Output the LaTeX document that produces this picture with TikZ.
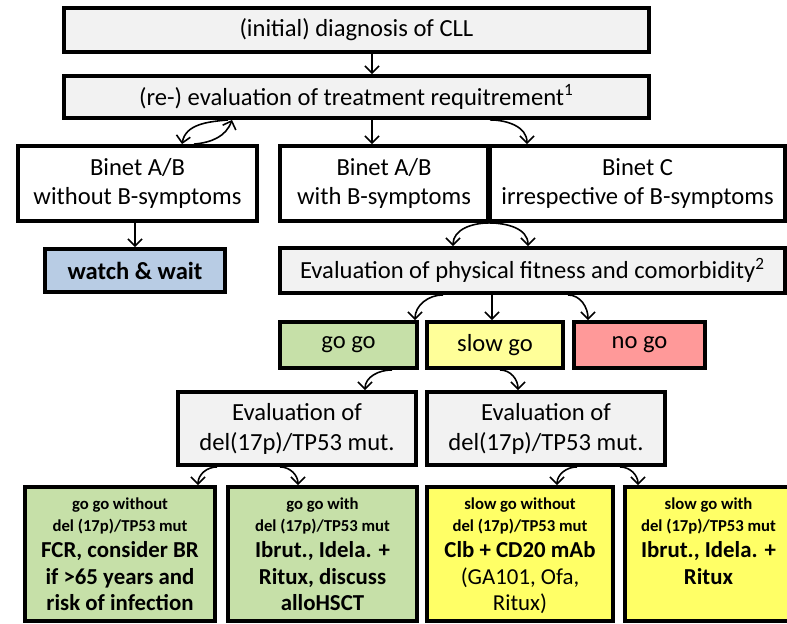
\documentclass[tikz,border=0pt]{standalone}
\usepackage{fontspec}
\setmainfont{Carlito}
\usetikzlibrary{arrows.meta}

\definecolor{boxgrey}{RGB}{242,242,242}
\definecolor{waitblue}{RGB}{184,204,228}
\definecolor{gogreen}{RGB}{198,224,168}
\definecolor{slowyellow}{RGB}{255,255,153}
\definecolor{deepyellow}{RGB}{255,255,102}
\definecolor{nogored}{RGB}{255,153,153}

\newcommand{\headsmall}{\fontsize{9.5}{12.5}\selectfont\bfseries}
\newcommand{\drugbig}{\fontsize{13}{15}\selectfont\bfseries}
\newcommand{\drugplain}{\fontsize{13}{15}\selectfont\mdseries}

\begin{document}
\begin{tikzpicture}[x=0.02cm,y=-0.02cm,
  box/.style={draw, line width=2.2pt, align=center, inner sep=1pt,
    font=\fontsize{14}{17}\selectfont},
  greybox/.style={box, fill=boxgrey},
  size/.style 2 args={minimum width=#1*0.02cm, minimum height=#2*0.02cm},
  arr/.style={-{Straight Barb[length=4pt,width=8pt]}, line width=0.9pt}]

  \useasboundingbox (0,0) rectangle (787,623);

  % top of the chart
  \node[greybox, size={585}{44}] (diag) at (356.5,30) {(initial) diagnosis of CLL};
  \node[greybox, size={585}{42}] (reeval) at (356.5,97)
    {(re-) evaluation of treatment requitrement\textsuperscript{1}};

  % Binet stages
  \node[box, fill=white, size={239}{75}] (binA) at (137.5,183.5)
    {Binet A/B\\ without B-symptoms};
  \node[box, fill=white, size={208}{75}] (binB) at (384,183.5)
    {Binet A/B\\ with B-symptoms};
  \node[box, fill=white, size={295}{75}] (binC) at (637.5,183.5)
    {Binet C\\ irrespective of B-symptoms};

  \node[box, fill=waitblue, size={180}{43}, font=\fontsize{14}{17}\selectfont\bfseries]
    (wait) at (135,270.5) {watch \& wait};
  \node[greybox, size={505}{45}] (fitness) at (532.5,270.5)
    {Evaluation of physical fitness and comorbidity\textsuperscript{2}};

  % fitness groups
  \node[box, fill=gogreen, size={137}{46}] (gogo) at (348.5,345) {go go};
  \node[box, fill=slowyellow, size={136}{46}] (slowgo) at (495,345) {slow go};
  \node[box, fill=nogored, size={131}{46}] (nogo) at (639.5,345) {no go};

  \node[greybox, size={238}{73}] (delL) at (297,428.5)
    {Evaluation of\\ del(17p)/TP53 mut.};
  \node[greybox, size={238}{73}] (delR) at (546,428.5)
    {Evaluation of\\ del(17p)/TP53 mut.};

  % therapy boxes
  \node[box, fill=gogreen, size={190}{134}, inner sep=0pt] (ggwo) at (120,554)
    {\parbox[c][2.6cm][t]{3.7cm}{\centering\vspace*{5pt}
      {\headsmall go go without\\ del (17p)/TP53 mut\par}
      \drugbig FCR, consider BR\\ if >65 years and\\ risk of infection}};
  \node[box, fill=gogreen, size={189}{134}, inner sep=0pt] (ggw) at (322.5,554)
    {\parbox[c][2.6cm][t]{3.7cm}{\centering\vspace*{5pt}
      {\headsmall go go with\\ del (17p)/TP53 mut\par}
      \drugbig Ibrut., Idela. +\\ Ritux, discuss\\ alloHSCT}};
  \node[box, fill=deepyellow, size={186}{134}, inner sep=0pt] (sgwo) at (520,554)
    {\parbox[c][2.6cm][t]{3.6cm}{\centering\vspace*{5pt}
      {\headsmall slow go without\\ del (17p)/TP53 mut\par}
      \drugbig Clb + CD20 mAb\\ \drugplain (GA101, Ofa,\\ Ritux)}};
  \node[box, fill=deepyellow, size={167}{134}, inner sep=0pt] (sgw) at (708.5,554)
    {\parbox[c][2.6cm][t]{3.2cm}{\centering\vspace*{5pt}
      {\headsmall slow go with\\ del (17p)/TP53 mut\par}
      \drugbig Ibrut., Idela. +\\ Ritux}};

  % connectors
  \draw[arr] (372,0 |- diag.south) -- (372,0 |- reeval.north);
  \draw[arr] (228,0 |- reeval.south) to[out=185,in=80] (182,0 |- binA.north);
  \draw[arr] (194,0 |- binA.north) to[out=5,in=-110] (232,0 |- reeval.south);
  \draw[arr] (372,0 |- reeval.south) -- (372,0 |- binB.north);
  \draw[arr] (490,0 |- reeval.south) to[out=0,in=90] (527,0 |- binC.north);

  \draw[arr] (489,0 |- binB.south) to[out=180,in=90] (453,0 |- fitness.north);
  \draw[arr] (489,0 |- binC.south) to[out=0,in=90] (528,0 |- fitness.north);
  \draw[arr] (135,0 |- binA.south) -- (135,0 |- wait.north);

  \draw[arr] (443,0 |- fitness.south) to[out=180,in=90] (415,0 |- gogo.north);
  \draw[arr] (492,0 |- fitness.south) -- (492,0 |- slowgo.north);
  \draw[arr] (568,0 |- fitness.south) to[out=0,in=90] (588,0 |- nogo.north);

  \draw[arr] (392,0 |- gogo.south) to[out=180,in=90] (365,0 |- delL.north);
  \draw[arr] (500,0 |- slowgo.south) to[out=0,in=90] (518,0 |- delR.north);

  \draw[arr] (217,0 |- delL.south) to[out=180,in=90] (198,0 |- ggwo.north);
  \draw[arr] (280,0 |- delL.south) to[out=0,in=90] (298,0 |- ggw.north);
  \draw[arr] (577,0 |- delR.south) to[out=180,in=90] (557,0 |- sgwo.north);
  \draw[arr] (620,0 |- delR.south) to[out=0,in=90] (638,0 |- sgw.north);
\end{tikzpicture}
\end{document}
